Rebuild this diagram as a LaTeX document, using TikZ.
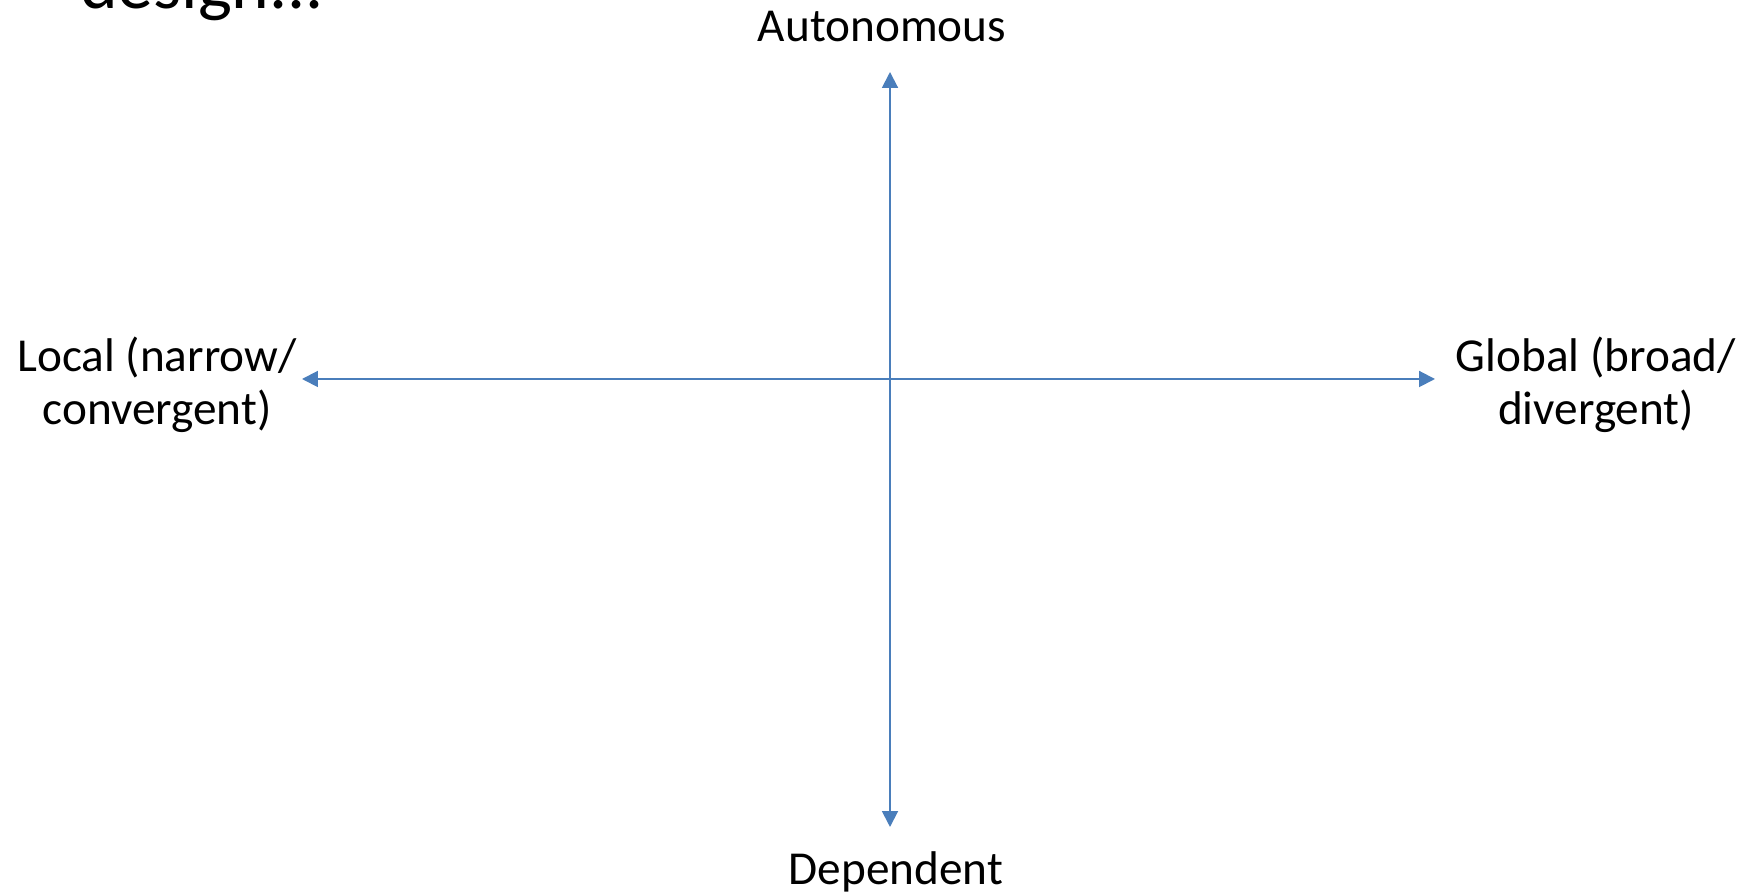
\documentclass[tikz,border=0pt]{standalone}
\usepackage{fontspec}
\setmainfont{Carlito}
\usetikzlibrary{arrows.meta, positioning}

\begin{document}
\begin{tikzpicture}[
    x=0.02cm, y=0.02cm,
    % --- STYLES ---
    pole/.style={inner sep=0pt, font=\fontsize{26.9pt}{30.7pt}\selectfont, align=center},
    heading/.style={inner sep=0pt, font=\fontsize{40.8pt}{49pt}\selectfont},
    axis/.style={{Triangle[length=9pt, width=9pt]}-{Triangle[length=9pt, width=9pt]}, line width=1.1pt, color=axisblue}
]
    \definecolor{axisblue}{HTML}{4A7EBB}
    \clip (0,0) rectangle (1747,895);

    % --- NODES ---
    \node[heading, anchor=base west] (title) at (80,886) {design...};

    \node[pole, anchor=base] (auto) at (882,853) {Autonomous};
    \node[pole, anchor=base] (dep) at (896,10) {Dependent};
    % base sits on the last line here
    \node[pole, anchor=base] (local) at (157,470) {Local (narrow/\\convergent)};
    \node[pole, anchor=base] (global) at (1596,470) {Global (broad/\\divergent)};

    % arrow ends
    \coordinate (top) at (890,823);
    \coordinate (bottom) at (890,68);
    \coordinate (left) at (302,516);
    \coordinate (right) at (1435,516);

    % --- AXES ---
    \draw[axis] (bottom) -- (top);
    \draw[axis] (left) -- (right);

\end{tikzpicture}
\end{document}
